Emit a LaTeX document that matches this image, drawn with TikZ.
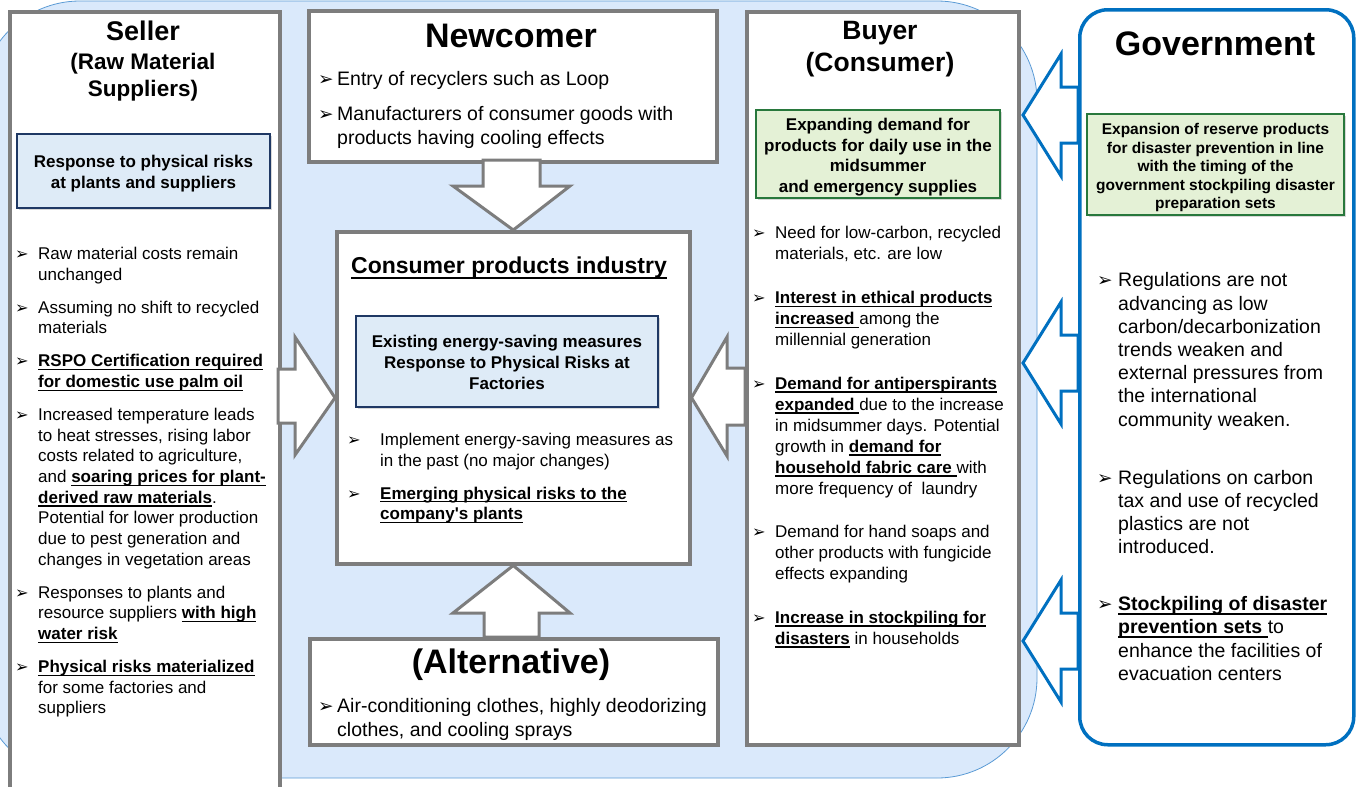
\documentclass[tikz,border=0pt]{standalone}
\usepackage{fontspec}
\setmainfont{Liberation Sans}
\newfontfamily\dejavu{DejaVu Sans}
\usepackage{graphicx}
\usepackage{xcolor}
\usetikzlibrary{shapes,arrows,positioning,calc,shadows}

\definecolor{bgblue}{RGB}{218,233,251}
\definecolor{bgline}{RGB}{91,155,213}
\definecolor{boxgray}{RGB}{125,125,125}
\definecolor{navy}{RGB}{31,56,100}
\definecolor{paleblue}{RGB}{222,235,247}
\definecolor{palegreen}{RGB}{228,241,214}
\definecolor{leafgreen}{RGB}{40,120,60}
\definecolor{govblue}{RGB}{0,112,192}

\newcommand{\arr}{\scalebox{0.95}{\dejavu\char"27A2}}
\newcommand{\uln}[1]{\leavevmode\setbox0\hbox{#1}\rlap{\vrule width\wd0 height -0.12em depth 0.2em}\box0\relax}
\newcommand{\bu}[1]{\uln{\textbf{#1}}}

\begin{document}
\begin{tikzpicture}[x=1pt, y=-1pt,
    graybox/.style={draw=boxgray, line width=3.5pt, fill=white, anchor=north west, inner sep=0pt},
    bluesub/.style={draw=navy, line width=1.2pt, fill=paleblue, inner sep=0pt,
        drop shadow={shadow xshift=2pt, shadow yshift=-2pt, opacity=0.3}},
    greensub/.style={draw=leafgreen, line width=1.2pt, fill=palegreen, inner sep=0pt,
        drop shadow={shadow xshift=2pt, shadow yshift=-2pt, opacity=0.3}},
    subtext/.style={align=center, inner sep=0pt, font=\bfseries\fontsize{17}{20.7}\selectfont},
    bigtitle/.style={font=\bfseries\fontsize{34}{40}\selectfont},
    sidetitle/.style={align=center, font=\bfseries\fontsize{26.5}{32}\selectfont},
    blist/.style={anchor=north west, inner sep=0pt, font=\fontsize{17}{20.7}\selectfont},
    wlist/.style={anchor=north west, inner sep=0pt, font=\fontsize{19.5}{24}\selectfont},
    garrow/.style={draw=boxgray, line width=3pt, fill=white},
    barrow/.style={draw=govblue, line width=3pt, fill=white}]

    \useasboundingbox (0,0) rectangle (1358,787);

    % Background panel
    \draw[fill=bgblue, draw=bgline, line width=0.8pt, rounded corners=100pt] (-20,1) rectangle (1037,778);

    % Boxes
    \node[graybox, minimum width=270pt, minimum height=800pt] (seller) at (8,10) {};
    \node[graybox, minimum width=408pt, minimum height=151pt] (newc) at (307,9) {};
    \node[graybox, minimum width=353pt, minimum height=332pt] (cpi) at (335,230) {};
    \node[graybox, minimum width=408pt, minimum height=106pt] (alt) at (308,637) {};
    \node[graybox, minimum width=272pt, minimum height=733pt] (buyer) at (745,10) {};

    % Gray block arrows
    \draw[garrow] (483,160) -- (483,186) -- (453,186) -- (cpi.north) -- (570,186) -- (540,186) -- (540,160) -- cycle;
    \draw[garrow] (484,637) -- (484,613) -- (453,613) -- (cpi.south) -- (570,613) -- (539,613) -- (539,637) -- cycle;
    \draw[garrow] (278,369) -- (295,369) -- (295,337) -- (cpi.west) -- (295,455) -- (295,423) -- (278,423) -- cycle;
    \draw[garrow] (745,368) -- (727,368) -- (727,337) -- (cpi.east) -- (727,456) -- (727,425) -- (745,425) -- cycle;

    % Blue block arrows from government
    \foreach \ty in {115,363,641} {
        \draw[barrow] (1078,\ty-28) -- (1061,\ty-28) -- (1061,\ty-61) -- (1023,\ty) -- (1061,\ty+61) -- (1061,\ty+28) -- (1078,\ty+28) -- cycle;
    }
    \node[draw=govblue, line width=3.5pt, fill=white, rounded corners=28pt, anchor=north west,
        minimum width=274pt, minimum height=735pt] (gov) at (1078,8) {};

    % Seller
    \node[font=\bfseries\fontsize{27}{30}\selectfont] (sellt) at (143,31) {Seller};
    \node[align=center, font=\bfseries\fontsize{22.5}{27}\selectfont] (sellt2) at (143,77) {(Raw Material\\Suppliers)};
    \node[bluesub, minimum width=253pt, minimum height=74pt] (sellsub) at (143.5,171) {};
    \node[subtext, font=\bfseries\fontsize{17}{21}\selectfont] (sellsubt) at ([yshift=-2.5pt]sellsub.center) {Response to physical risks\\at plants and suppliers};
    \node[blist] (selllist) at (15,245) {\begin{tabular}{@{}p{23pt}@{}l@{}}
        \arr & Raw material costs remain\\ & unchanged\\[12.2pt]
        \arr & Assuming no shift to recycled\\ & materials\\[12.2pt]
        \arr & \bu{RSPO Certification required}\\ & \bu{for domestic use palm oil}\\[12.2pt]
        \arr & Increased temperature leads\\ & to heat stresses, rising labor\\ & costs related to agriculture,\\
            & and \bu{soaring prices for plant-}\\ & \bu{derived raw materials}.\\ & Potential for lower production\\
            & due to pest generation and\\ & changes in vegetation areas\\[12.2pt]
        \arr & Responses to plants and\\ & resource suppliers \bu{with high}\\ & \bu{water risk}\\[12.2pt]
        \arr & \bu{Physical risks materialized}\\ & for some factories and\\ & suppliers
    \end{tabular}};

    % Newcomer
    \node[bigtitle] (newct) at (511,36) {Newcomer};
    \node[wlist] (newclist) at (318,68) {\begin{tabular}{@{}p{19pt}@{}l@{}}
        \arr & Entry of recyclers such as Loop\\[11pt]
        \arr & Manufacturers of consumer goods with\\ & products having cooling effects
    \end{tabular}};

    % Consumer products industry
    \node[font=\bfseries\fontsize{23}{27}\selectfont] (cpit) at (509,268) {\uln{Consumer products industry}};
    \node[bluesub, minimum width=302pt, minimum height=91pt] (cpisub) at (507,361.5) {};
    \node[subtext] (cpisubt) at ([yshift=-1pt]cpisub.center) {Existing energy-saving measures\\Response to Physical Risks at\\Factories};
    \node[blist] (cpilist) at (347,431) {\begin{tabular}{@{}p{33pt}@{}l@{}}
        \arr & Implement energy-saving measures as\\ & in the past (no major changes)\\[12pt]
        \arr & \bu{Emerging physical risks to the}\\ & \bu{company\textquotesingle s plants}
    \end{tabular}};

    % Alternative
    \node[bigtitle] (altt) at (511,665) {(Alternative)};
    \node[wlist] (altlist) at (318,695) {\begin{tabular}{@{}p{19pt}@{}l@{}}
        \arr & Air-conditioning clothes, highly deodorizing\\ & clothes, and cooling sprays
    \end{tabular}};

    % Buyer
    \node[sidetitle] (buyt) at (880,49.5) {Buyer\\(Consumer)};
    \node[greensub, minimum width=244pt, minimum height=88pt] (buysub) at (878,154) {};
    \node[subtext] (buysubt) at ([yshift=-3pt]buysub.center) {Expanding demand for\\products for daily use in the\\midsummer\\and emergency supplies};
    \node[blist, font=\fontsize{17}{21}\selectfont] (buylist) at (752,224) {\begin{tabular}{@{}p{23pt}@{}l@{}}
        \arr & Need for low-carbon, recycled\\ & materials, etc. are low\\[22.6pt]
        \arr & \bu{Interest in ethical products}\\ & \bu{increased }among the\\ & millennial generation\\[22.6pt]
        \arr & \bu{Demand for antiperspirants}\\ & \bu{expanded }due to the increase\\ & in midsummer days. Potential\\
            & growth in \bu{demand for}\\ & \bu{household fabric care }with\\ & more frequency of~ laundry\\[22.6pt]
        \arr & Demand for hand soaps and\\ & other products with fungicide\\ & effects expanding\\[22.6pt]
        \arr & \bu{Increase in stockpiling for}\\ & \bu{disasters} in households
    \end{tabular}};

    % Government
    \node[bigtitle] (govt) at (1215,43.5) {Government};
    \node[greensub, minimum width=257pt, minimum height=101pt] (govsub) at (1215.5,164.5) {};
    \node[subtext, font=\bfseries\fontsize{15.5}{18.5}\selectfont] (govsubt) at ([yshift=-3pt]govsub.center)
        {Expansion of reserve products\\for disaster prevention in line\\with the timing of the\\government stockpiling disaster\\preparation sets};
    \node[wlist, font=\fontsize{19.5}{23.2}\selectfont] (govlist) at (1097,270.5) {\begin{tabular}{@{}p{21pt}@{}l@{}}
        \arr & Regulations are not\\ & advancing as low\\ & carbon/decarbonization\\ & trends weaken and\\
            & external pressures from\\ & the international\\ & community weaken.\\[35pt]
        \arr & Regulations on carbon\\ & tax and use of recycled\\ & plastics are not\\ & introduced.\\[33.5pt]
        \arr & \bu{Stockpiling of disaster}\\ & \bu{prevention sets }to\\ & enhance the facilities of\\ & evacuation centers
    \end{tabular}};
\end{tikzpicture}
\end{document}
